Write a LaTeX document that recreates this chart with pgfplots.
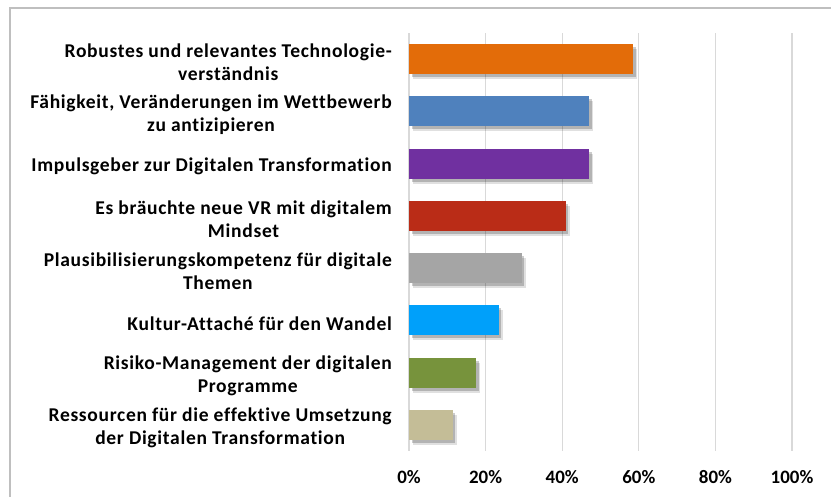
\documentclass[border=0pt]{standalone}
\usepackage{pgfplots}
\pgfplotsset{compat=1.18}
\usepackage{fontspec}
\setmainfont{Carlito}[Ligatures=NoCommon]
\newfontfamily\lab{Carlito}[LetterSpace=3.5, Ligatures=NoCommon]
\usetikzlibrary{shadows}
\definecolor{c1}{HTML}{E36C09}
\definecolor{c2}{HTML}{4F81BD}
\definecolor{c3}{HTML}{7030A0}
\definecolor{c4}{HTML}{BA2C17}
\definecolor{c5}{HTML}{A5A5A5}
\definecolor{c6}{HTML}{00A0FA}
\definecolor{c7}{HTML}{77933C}
\definecolor{c8}{HTML}{C4BD97}
\definecolor{gridgray}{HTML}{D9D9D9}
\definecolor{framegray}{HTML}{BFBFBF}

\begin{document}
\begin{tikzpicture}
\useasboundingbox (0,0) rectangle (831bp,497bp);
\draw[framegray, line width=1.5bp] (10bp,0) -- (10bp,489bp) -- (831bp,489bp);
\begin{axis}[
    at={(409bp,46bp)}, anchor=south west,
    scale only axis, width=383bp, height=418bp,
    xbar, bar width=30bp, bar shift=0pt,
    xmin=0, xmax=100,
    ymin=-0.5, ymax=7.5, y dir=reverse,
    xtick={0,20,40,60,80,100},
    xticklabels={0\%,20\%,40\%,60\%,80\%,100\%},
    ytick={0,1,2,3,4,5,6,7},
    yticklabels={
      Robustes und relevantes Technologie-\\verständnis,
      {Fähigkeit, Veränderungen im Wettbewerb\\zu antizipieren},
      Impulsgeber zur Digitalen Transformation,
      Es bräuchte neue VR mit digitalem\\Mindset,
      Plausibilisierungskompetenz für digitale\\Themen,
      Kultur-Attaché für den Wandel,
      Risiko-Management der digitalen\\Programme,
      Ressourcen für die effektive Umsetzung\\der Digitalen Transformation},
    major tick length=0pt,
    xmajorgrids, grid style={gridgray, line width=1.3bp},
    axis line style={draw=none},
    xticklabel style={font=\fontsize{19}{23}\selectfont\bfseries, text=black,
      anchor=base, inner sep=0pt, yshift=-32bp},
    yticklabel style={font=\lab\fontsize{19.6}{23}\selectfont\bfseries, text=black,
      anchor=east, align=center, inner sep=0pt, xshift=-17bp, yshift=-3bp},
    every axis plot/.append style={draw=none,
      drop shadow={shadow xshift=4bp, shadow yshift=-5bp, opacity=0.12, fill=black},
      drop shadow={shadow xshift=2.5bp, shadow yshift=-3bp, opacity=0.2, fill=black}},
]
\addplot[fill=c1] coordinates {(58.6,0)};
\addplot[fill=c2] coordinates {(47.0,1)};
\addplot[fill=c3] coordinates {(47.0,2)};
\addplot[fill=c4] coordinates {(40.9,3)};
\addplot[fill=c5] coordinates {(29.4,4)};
\addplot[fill=c6] coordinates {(23.4,5)};
\addplot[fill=c7] coordinates {(17.5,6)};
\addplot[fill=c8] coordinates {(11.4,7)};
\end{axis}
\end{tikzpicture}
\end{document}
